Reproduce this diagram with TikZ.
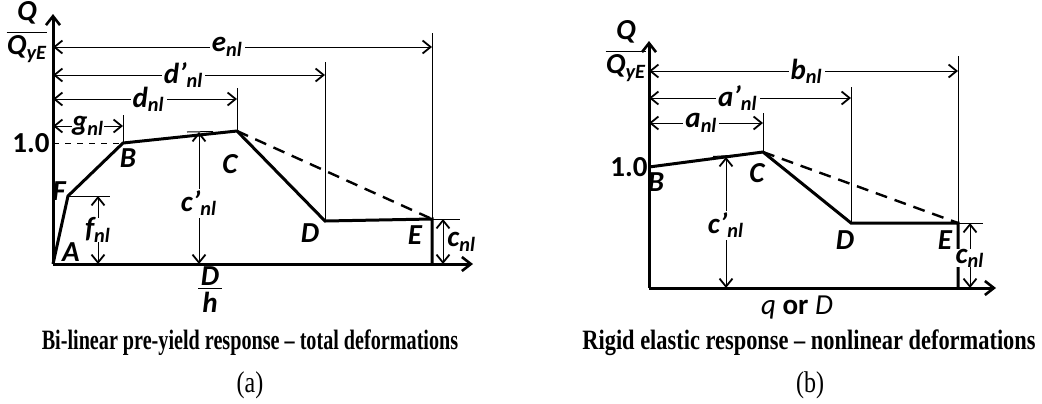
\documentclass[tikz,border=0pt]{standalone}
\usepackage{graphicx}
\usepackage{fontspec}
\setmainfont{Liberation Serif}
\setsansfont{Carlito}
\usetikzlibrary{arrows.meta}
\newcommand{\nlsub}{\textsubscript{nl}}
\newcommand{\narrow}[2]{\scalebox{#1}[1]{#2}}
\tikzset{
  curve/.style={line width=1.5pt, line join=miter},
  axis/.style={line width=1.5pt, -{Straight Barb[length=4.5pt, width=7pt, line width=1.3pt]}},
  guide/.style={line width=0.5pt},
  dashline/.style={line width=1.2pt, dash pattern=on 6pt off 4pt},
  dimarrow/.style={line width=0.5pt, {Straight Barb[length=4pt, width=6.5pt, line width=0.9pt]}-{Straight Barb[length=4pt, width=6.5pt, line width=0.9pt]}},
  lbl/.style={font=\sffamily\bfseries\itshape\fontsize{14.5}{17}\selectfont, inner sep=1pt},
  caption/.style={font=\bfseries\fontsize{14}{16}\selectfont, inner sep=0pt},
  tag/.style={font=\fontsize{15}{17}\selectfont, inner sep=0pt}
}
\begin{document}
\begin{tikzpicture}[x=0.5pt, y=-0.5pt]
  \useasboundingbox (0,0) rectangle (1042,403);
  % ---------------- (a) bi-linear pre-yield ----------------
  \coordinate (A) at (53,264);
  \coordinate (F) at (68,196);
  \coordinate (B) at (123,143);
  \coordinate (C) at (237,131);
  \coordinate (D) at (325,221);
  \coordinate (E) at (432,219);
  \coordinate (E0) at (432,264);
  \coordinate (ytopa) at (53,14);
  \coordinate (xenda) at (473,264);
  % axes
  \draw[axis] (A) -- (ytopa);
  \draw[axis] (A) -- (xenda);
  % guide lines
  \coordinate (gT) at (123,115);
  \coordinate (dT) at (237,88);
  \coordinate (dpT) at (325,62);
  \coordinate (eT) at (432,33);
  \draw[guide] (B) -- (gT);
  \draw[guide] (C) -- (dT);
  \draw[guide] (D) -- (dpT);
  \draw[guide] (E0) -- (eT);
  \draw[guide, dashed] (A |- B) -- (B);
  \coordinate (fR) at (110,196);
  \coordinate (cR) at (460,219);
  \coordinate (cpL) at (187,132);
  \coordinate (cpR) at (213,131.5);
  \draw[guide] (F) -- (fR);
  \draw[guide] (E) -- (cR);
  \draw[guide] (cpL) -- (cpR);
  % curve
  \draw[dashline] (C) -- (E);
  \draw[curve] (A) -- (F) -- (B) -- (C) -- (D) -- (E) -- (E0);
  % horizontal dimensions
  \coordinate (e0) at (53,47);   \coordinate (e1) at (432,47);
  \coordinate (dp0) at (53,75);  \coordinate (dp1) at (325,75);
  \coordinate (d0) at (53,99);   \coordinate (d1) at (237,99);
  \coordinate (g0) at (53,126);  \coordinate (g1) at (123,126);
  \draw[dimarrow] (e0) -- node[lbl, fill=white, pos=0.46] (le) {e\nlsub} (e1);
  \draw[dimarrow] (dp0) -- node[lbl, fill=white, pos=0.48] (ldp) {d'\nlsub} (dp1);
  \draw[dimarrow] (d0) -- node[lbl, fill=white, pos=0.52] (ld) {d\nlsub} (d1);
  \draw[dimarrow] (g0) -- node[lbl, fill=white, inner sep=0pt] (lg) {g\nlsub} (g1);
  % vertical dimensions
  \coordinate (cp0) at (199,264); \coordinate (cp1) at (199,132);
  \coordinate (f0) at (98,264);   \coordinate (f1) at (98,196);
  \coordinate (c0) at (443,264);  \coordinate (c1) at (443,219);
  \draw[dimarrow] (cp0) -- node[lbl, fill=white, pos=0.46] (lcp) {c'\nlsub} (cp1);
  \draw[dimarrow] (f0) -- node[lbl, fill=white, pos=0.5, inner sep=0pt] (lf) {f\nlsub} (f1);
  \draw[dimarrow] (c0) -- (c1);
  \node[lbl, anchor=west] (lc) at (445,242) {c\nlsub};
  % point labels
  \node[lbl] (lA) at (71,252) {A};
  \node[lbl] (lF) at (59,191) {F};
  \node[lbl] (lB) at (128,158) {B};
  \node[lbl] (lC) at (230,164) {C};
  \node[lbl] (lD) at (310,233) {D};
  \node[lbl] (lE) at (415,235) {E};
  \node[lbl, anchor=east, inner sep=0pt] (oneA) at (50,143) {\upshape 1.0};
  % axis titles
  \node[lbl, inner sep=0pt] (qnA) at (27,13) {Q};
  \node[lbl, inner sep=0pt] (qdA) at (27,49) {Q\textsubscript{yE}};
  \draw[guide] ([yshift=1.5pt]qdA.north west) -- ([yshift=1.5pt]qdA.north east);
  \node[lbl, inner sep=0pt] (dnA) at (210,276) {D};
  \node[lbl, inner sep=0pt] (hnA) at (210,302) {h};
  \draw[guide] ([xshift=-1pt, yshift=-1.5pt]dnA.south west) -- ([xshift=1pt, yshift=-1.5pt]dnA.south east);
  % captions
  \node[caption] (capA) at (250,343) {\narrow{0.72}{Bi-linear pre-yield response -- total deformations}};
  \node[tag] (tagA) at (250,385) {\scalebox{0.8}[1]{(a)}};
  % ---------------- (b) rigid elastic ----------------
  \coordinate (O) at (649,288);
  \coordinate (Bb) at (649,167);
  \coordinate (Cb) at (763,152);
  \coordinate (Db) at (851,223);
  \coordinate (Eb) at (958,223);
  \coordinate (Eb0) at (958,288);
  \coordinate (ytopb) at (649,41);
  \coordinate (xendb) at (996,288);
  \draw[axis] (O) -- (ytopb);
  \draw[axis] (O) -- (xendb);
  % guide lines
  \coordinate (aT) at (763,113);
  \coordinate (apT) at (851,87);
  \coordinate (bT) at (958,56);
  \draw[guide] (Cb) -- (aT);
  \draw[guide] (Db) -- (apT);
  \draw[guide] (Eb0) -- (bT);
  \coordinate (cbR) at (983,223);
  \coordinate (cpbL) at (713,156.5);
  \coordinate (cpbR) at (738,155);
  \draw[guide] (Eb) -- (cbR);
  \draw[guide] (cpbL) -- (cpbR);
  % curve
  \draw[dashline] (Cb) -- (Eb);
  \draw[curve] (Bb) -- (Cb) -- (Db) -- (Eb) -- (Eb0);
  % horizontal dimensions
  \coordinate (b0) at (649,71);   \coordinate (b1) at (958,71);
  \coordinate (ap0) at (649,98);  \coordinate (ap1) at (851,98);
  \coordinate (a0) at (649,123);  \coordinate (a1) at (763,123);
  \draw[dimarrow] (b0) -- node[lbl, fill=white, pos=0.51] (lb) {b\nlsub} (b1);
  \draw[dimarrow] (ap0) -- node[lbl, fill=white, pos=0.44] (lap) {a'\nlsub} (ap1);
  \draw[dimarrow] (a0) -- node[lbl, fill=white, pos=0.46] (la) {a\nlsub} (a1);
  % vertical dimensions
  \coordinate (cpb0) at (726,288); \coordinate (cpb1) at (726,157);
  \coordinate (cb0) at (970,288);  \coordinate (cb1) at (970,223);
  \draw[dimarrow] (cpb0) -- node[lbl, fill=white, pos=0.48] (lcpb) {c'\nlsub} (cpb1);
  \draw[dimarrow] (cb0) -- node[lbl, fill=white, pos=0.46, inner sep=0pt] (lcb) {c\nlsub} (cb1);
  % point labels
  \node[lbl] (lBb) at (656,182) {B};
  \node[lbl] (lCb) at (757,173) {C};
  \node[lbl] (lDb) at (845,240) {D};
  \node[lbl] (lEb) at (945,240) {E};
  \node[lbl, anchor=east, inner sep=0pt] (oneB) at (648,167) {\upshape 1.0};
  % axis titles
  \node[lbl, inner sep=0pt] (qnB) at (626,32) {Q};
  \node[lbl, inner sep=0pt] (qdB) at (626,68) {Q\textsubscript{yE}};
  \draw[guide] ([yshift=1.5pt]qdB.north west) -- ([yshift=1.5pt]qdB.north east);
  \node[lbl, font=\sffamily\fontsize{14.5}{17}\selectfont] (xlB) at (797,308) {\textit{q} \textbf{or} \textit{D}};
  % captions
  \node[caption] (capB) at (809,343) {\narrow{0.8}{Rigid elastic response -- nonlinear deformations}};
  \node[tag] (tagB) at (810,385) {\scalebox{0.8}[1]{(b)}};
\end{tikzpicture}
\end{document}
